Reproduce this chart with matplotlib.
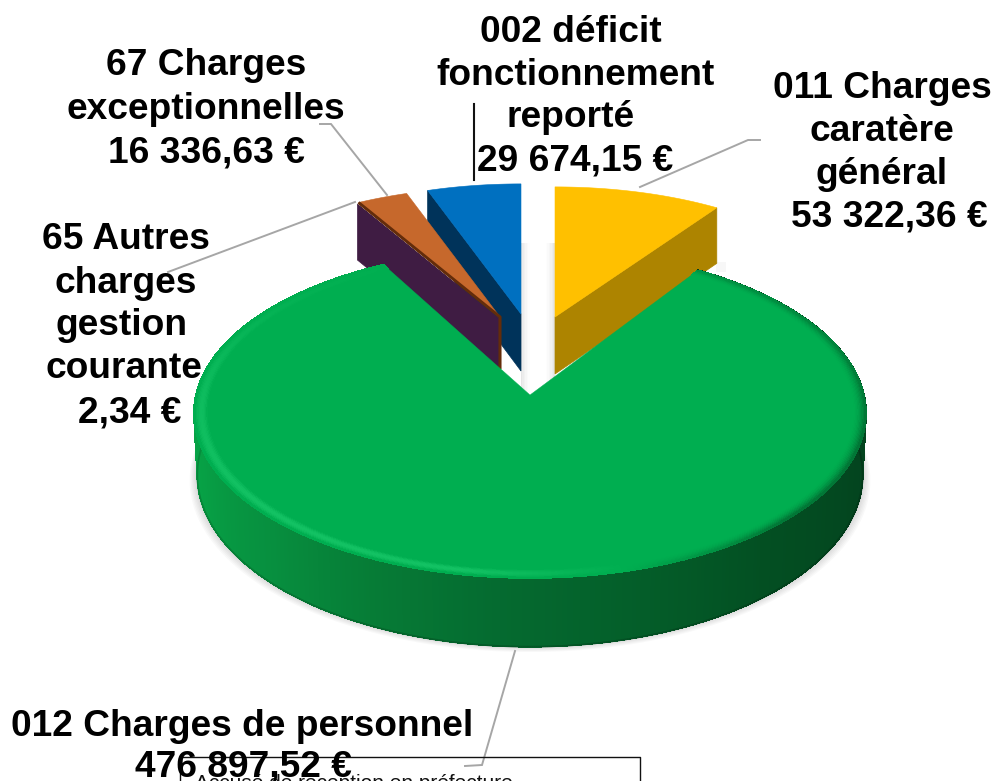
import numpy as np
import matplotlib
matplotlib.use("Agg")
import matplotlib.pyplot as plt
from matplotlib.collections import PolyCollection, LineCollection
from matplotlib.colors import to_rgb
from matplotlib.patches import Polygon

# ---- data ----
categories = ["011 Charges caratère général", "012 Charges de personnel",
              "65 Autres charges gestion courante", "67 Charges exceptionnelles",
              "002 déficit fonctionnement reporté"]
values = [53322.36, 476897.52, 2.34, 16336.63, 29674.15]
colors = ["#FFC000", "#00AE50", "#3F1C43", "#C6682C", "#0070C0"]
face_colors = ["#AD8400", "#00702F", "#3F1C43", "#642C0A", "#00335A"]

labels = [
    ("002 déficit", 571, 42), ("fonctionnement", 576, 85), ("reporté", 571, 127), ("29 674,15 €", 575, 170),
    ("67 Charges", 206, 75), ("exceptionnelles", 206, 119), ("16 336,63 €", 206, 162),
    ("011 Charges", 882, 98), ("caratère", 882, 141), ("général", 882, 184), ("53 322,36 €", 889, 227),
    ("65 Autres", 126, 249), ("charges", 126, 293), ("gestion", 122, 335), ("courante", 124, 378), ("2,34 €", 130, 422),
    ("012 Charges de personnel", 242, 736), ("476 897,52 €", 243, 777),
]

# ---- layout / projection ----
GREEN = dict(cx=530, cy=395, A=334, B=163, k=0.11, D=61)
SMALL = dict(A=302, B=134, k=0.03, D=57)
APEX = {0: (555, 317), 2: (499, 319), 3: (500, 317), 4: (521, 314)}


def project(theta, r, g):
    u, v = r * np.sin(theta), r * np.cos(theta)
    w = 1 + g["k"] * v
    return g["cx"] + g["A"] * u / w, g["cy"] - g["B"] * v / w, g["D"] / w


fig = plt.figure(figsize=(9.98, 7.81), dpi=100)
ax = fig.add_axes([0, 0, 1, 1])
ax.set_xlim(0, 998)
ax.set_ylim(781, 0)
ax.axis("off")

fracs = np.array(values) / np.sum(values)
edges = np.concatenate([[0], np.cumsum(fracs)]) * 2 * np.pi
g_th = np.linspace(np.radians(75), np.radians(285), 400)

# ---- soft shadow under the pie ----
for i in range(7):
    x, y, d = project(g_th, 1.0, GREEN)
    cx = GREEN["cx"]
    ax.add_patch(Polygon(np.c_[cx + (x - cx) * (0.992 + 0.0035 * i), y + d + 0.9 * i],
                         fc="#000000", ec="none", alpha=0.022, zorder=1))

# ---- grey gap shadow between yellow and blue ----
for i in range(6):
    for x0, sgn in ((521, 1), (555, -1)):
        ax.fill_between([x0 + sgn * i * 1.5, x0 + sgn * (i + 1) * 1.5], 243, 395,
                        color="#000000", alpha=0.10 * (1 - i / 6) ** 1.5, lw=0, zorder=1)
ax.fill_between([716, 726], 262, 272, color="#000000", alpha=0.03, lw=0, zorder=1)


def face(idx, zorder, with_face=True):
    g = dict(SMALL, cx=APEX[idx][0], cy=APEX[idx][1])
    th = edges[idx + 1] if idx == 0 else edges[idx]
    xt, yt, dt = project(th, 1.0, g)
    x0, y0, d0 = project(th, 0.0, g)
    if with_face:
        ax.add_patch(Polygon([(xt, yt), (x0, y0), (x0, y0 + d0), (xt, yt + dt)],
                             fc=face_colors[idx], ec=face_colors[idx], lw=0.5, zorder=zorder))
    t = np.linspace(edges[idx], edges[idx + 1], 60)
    x, y, _ = project(t, 1.0, g)
    ax.add_patch(Polygon(np.c_[np.r_[x0, x], np.r_[y0, y]],
                         fc=colors[idx], ec=colors[idx], lw=0.4, zorder=zorder + 0.1))


face(0, 2)
face(4, 2)
face(2, 3)
face(3, 3.5, with_face=False)
# thin dark sliver along the orange slice's left edge and apex
g3 = dict(SMALL, cx=APEX[3][0], cy=APEX[3][1])
xt, yt, _ = project(edges[3], 1.0, g3)
ax.plot([xt, APEX[3][0], APEX[3][0]], [yt, APEX[3][1], APEX[3][1] + 52],
        color="#642C0A", lw=2.2, zorder=3.6, solid_capstyle="butt")

# ---- green slice: side ----
side_stops_th = np.radians([33, 70, 110, 140, 165, 185, 205, 225, 250, 280, 332])
side_stops_c = np.array([to_rgb(c) for c in ["#023F1B", "#023F1B", "#03451F", "#034F22", "#045F2A", "#056B30",
                                              "#067C36", "#078F3F", "#07A045", "#07A84A", "#07A84A"]])


def side_col(t):
    return np.array([np.interp(t, side_stops_th, side_stops_c[:, j]) for j in range(3)]).T


th = np.linspace(edges[1], edges[2], 900)
x, y, d = project(th, 1.0, GREEN)
cx = GREEN["cx"]
xb = cx + (x - cx) * 0.99
quads = [[(x[i], y[i]), (x[i + 1], y[i + 1]), (xb[i + 1], y[i + 1] + d[i + 1]), (xb[i], y[i] + d[i])]
         for i in range(len(th) - 1)]
cols = side_col(th[:-1])
order = np.argsort(y[:-1])
ax.add_collection(PolyCollection([quads[i] for i in order], facecolors=cols[order], edgecolors=cols[order],
                                 linewidths=0.6, antialiaseds=False, zorder=4))
# smooth lower edge
seg = [[(xb[i], y[i] + d[i]), (xb[i + 1], y[i + 1] + d[i + 1])] for i in range(len(th) - 1)]
ax.add_collection(LineCollection(seg, colors=cols * 0.82, linewidths=1.2, zorder=4.1))

# ---- green slice: top ----
x0, y0, _ = project(0.0, 0.0, GREEN)
xt, yt, _ = project(th, 1.0, GREEN)
ax.add_patch(Polygon(np.c_[np.r_[x0, xt], np.r_[y0, yt]], fc=colors[1], ec=colors[1], lw=0.3, zorder=5))

# bevelled rim of the green top
rim_th = np.radians([33, 100, 135, 160, 190, 230, 270, 300, 332])
rim_light = np.array([-0.25, -0.55, -0.55, -0.1, 0.55, 0.55, 0.4, 0.15, 0.0])
base = np.array(to_rgb(colors[1]))
light = np.array(to_rgb("#22D273"))
dark = np.array(to_rgb("#023F1B"))
rs = np.linspace(0.962, 1.0, 11)
pos = (rs[:-1] + rs[1:] - 2 * rs[0]) / (2 * (rs[-1] - rs[0]))
t2 = np.linspace(edges[1], edges[2], 300)
rim_q, rim_c = [], []
for j in range(10):
    xa, ya, _ = project(t2, rs[j], GREEN)
    xc, yc, _ = project(t2, rs[j + 1], GREEN)
    for i in range(len(t2) - 1):
        s = np.interp(t2[i], rim_th, rim_light)
        if s >= 0:
            c = base + (light - base) * s * np.sin(np.pi * min(pos[j] * 1.05, 1.0))
        else:
            c = base + (dark - base) * (-s) * pos[j] ** 2
        rim_q.append([(xa[i], ya[i]), (xa[i + 1], ya[i + 1]), (xc[i + 1], yc[i + 1]), (xc[i], yc[i])])
        rim_c.append(c)
ax.add_collection(PolyCollection(rim_q, facecolors=rim_c, edgecolors=rim_c, linewidths=0.3,
                                 antialiaseds=False, zorder=5.1))

# ---- leader lines ----
leaders = [
    ([640, 748, 760], [187, 140, 140]),
    ([515, 482, 465], [651, 765, 766]),
    ([387, 331, 320], [195, 124, 124]),
    ([355, 168], [202, 272]),
]
for lx, ly in leaders:
    ax.plot(lx, ly, color="#A6A6A6", lw=1.4, zorder=6, solid_joinstyle="miter")
ax.plot([474, 474], [104, 180], color="#111111", lw=1.5, zorder=6)

# ---- bottom stamp ----
ax.plot([180, 180, 640, 640], [781, 757, 757, 781], color="#111111", lw=1.0, zorder=6)
ax.text(195, 789, "Accusé de réception en préfecture", family="Liberation Sans", fontsize=15,
        color="#111111", ha="left", va="baseline", zorder=6.5, clip_on=False)

# ---- labels ----
for txt, lx, ly in labels:
    ax.text(lx, ly, txt, family="Liberation Sans", fontweight="bold", fontsize=26.7,
            color="black", ha="center", va="baseline", zorder=7)

fig.savefig("out.png", dpi=100)
